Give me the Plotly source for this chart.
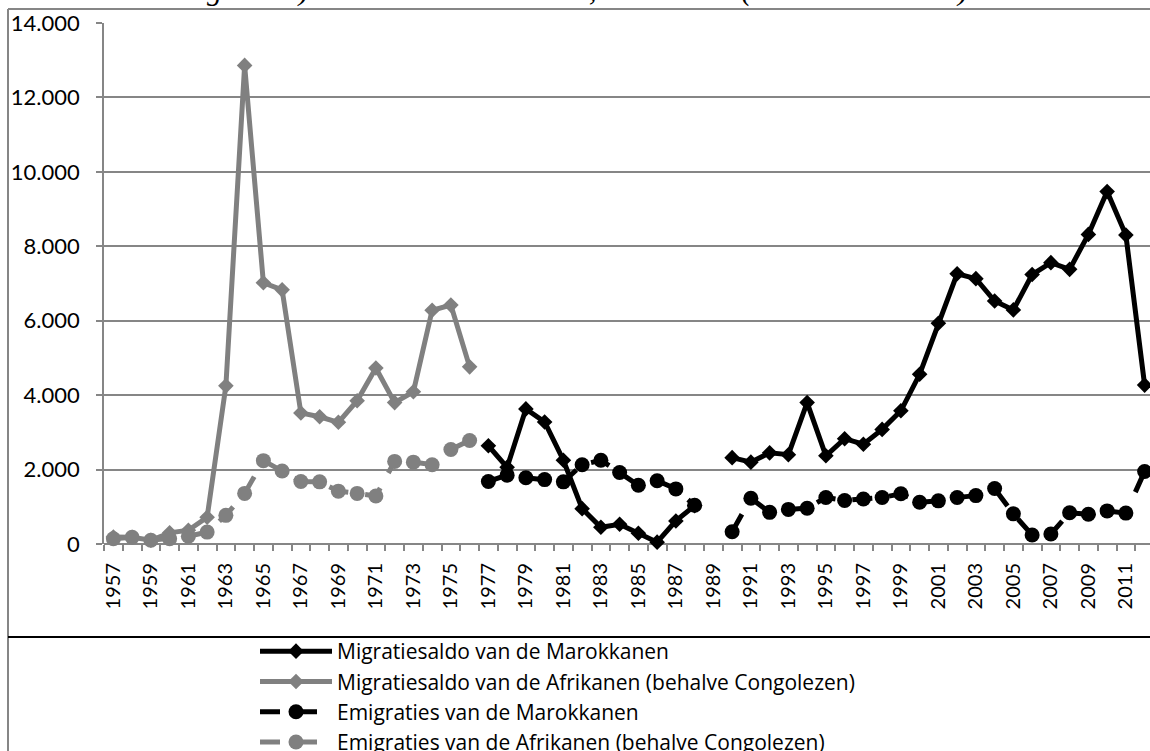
import plotly.graph_objects as go

# jaren per reeks
afr_years = [1957, 1958, 1959, 1960, 1961, 1962, 1963, 1964, 1965, 1966,
             1967, 1968, 1969, 1970, 1971, 1972, 1973, 1974, 1975, 1976]
mar_years = [1977, 1978, 1979, 1980, 1981, 1982, 1983, 1984, 1985, 1986,
             1987, 1988, 1989, 1990, 1991, 1992, 1993, 1994, 1995, 1996,
             1997, 1998, 1999, 2000, 2001, 2002, 2003, 2004, 2005, 2006,
             2007, 2008, 2009, 2010, 2011, 2012]

# migratiesaldo en emigraties
mar_saldo = [2640, 2060, 3630, 3280, 2250, 950, 450, 530, 290, 50,
             620, 1030, None, 2320, 2200, 2450, 2400, 3800, 2370, 2830,
             2680, 3080, 3580, 4560, 5930, 7260, 7130, 6530, 6290, 7240,
             7560, 7380, 8320, 9470, 8300, 4270]
afr_saldo = [190, 180, 100, 300, 370, 720, 4250, 12860, 7020, 6830,
             3520, 3420, 3270, 3850, 4730, 3800, 4090, 6280, 6420, 4760]
mar_emig = [1680, 1850, 1780, 1730, 1670, 2130, 2250, 1920, 1580, 1700,
            1480, 1040, None, 330, 1230, 850, 930, 960, 1250, 1170,
            1210, 1250, 1350, 1120, 1160, 1250, 1300, 1490, 810, 240,
            270, 840, 800, 890, 830, 1950]
afr_emig = [140, 180, 100, 140, 210, 320, 770, 1360, 2240, 1960,
            1680, 1670, 1420, 1360, 1290, 2220, 2200, 2130, 2540, 2780]

tick_years = [1957, 1959, 1961, 1963, 1965, 1967, 1969, 1971, 1973, 1975,
              1977, 1979, 1981, 1983, 1985, 1987, 1989, 1991, 1993, 1995,
              1997, 1999, 2001, 2003, 2005, 2007, 2009, 2011]
tick_labels = [str(y) for y in tick_years]

series_names = [
    'Migratiesaldo van de Marokkanen',
    'Migratiesaldo van de Afrikanen (behalve Congolezen)',
    'Emigraties van de Marokkanen',
    'Emigraties van de Afrikanen (behalve Congolezen)',
]

FONT = 'Lato'
GRID = '#868686'
GREY = '#808080'
DASH = '20px,17px'

fig = go.Figure()

fig.add_trace(go.Scatter(
    x=mar_years, y=mar_saldo, name=series_names[0], mode='lines+markers',
    line=dict(color='black', width=5),
    marker=dict(symbol='diamond', size=12, color='black'),
    cliponaxis=False))
fig.add_trace(go.Scatter(
    x=afr_years, y=afr_saldo, name=series_names[1], mode='lines+markers',
    line=dict(color=GREY, width=5),
    marker=dict(symbol='diamond', size=12, color=GREY),
    cliponaxis=False))
fig.add_trace(go.Scatter(
    x=mar_years, y=mar_emig, name=series_names[2], mode='lines+markers',
    line=dict(color='black', width=5, dash=DASH),
    marker=dict(symbol='circle', size=15, color='black'),
    cliponaxis=False))
fig.add_trace(go.Scatter(
    x=afr_years, y=afr_emig, name=series_names[3], mode='lines+markers',
    line=dict(color=GREY, width=5, dash=DASH),
    marker=dict(symbol='circle', size=15, color=GREY),
    cliponaxis=False))

# plot area in pixels: left 104, top 23, bottom 544
L, T, B, W, H = 104, 23, 207, 1150, 751
pw, ph = W - L, H - T - B


def px_x(x):
    return (x - L) / pw


def px_y(y):
    return (H - B - y) / ph


# frame and divider like the Excel chart area
fig.add_shape(type='line', xref='paper', yref='paper',
              x0=px_x(8), x1=px_x(1150), y0=px_y(9), y1=px_y(9),
              line=dict(color=GRID, width=2))
fig.add_shape(type='line', xref='paper', yref='paper',
              x0=px_x(8), x1=px_x(8), y0=px_y(9), y1=px_y(751),
              line=dict(color=GRID, width=2))
fig.add_shape(type='line', xref='paper', yref='paper',
              x0=px_x(8), x1=px_x(1150), y0=px_y(637), y1=px_y(637),
              line=dict(color='black', width=2))

# title, cut off by the top of the page
fig.add_annotation(
    text='Congolezen) en van de Marokkanen, 1957-2012 (Bron: RR-ADSEI)',
    xref='paper', yref='paper', x=px_x(155), y=px_y(9),
    xanchor='left', yanchor='bottom', showarrow=False,
    font=dict(family='Liberation Serif', size=30, color='black',
              style='italic'))

fig.update_xaxes(
    range=[1956.5, 1956.5 + pw / 18.75],
    tickmode='array', tickvals=tick_years, ticktext=tick_labels,
    tickangle=-90, ticks='', showgrid=False, zeroline=False,
    showline=False, ticklabelstandoff=14,
    tickfont=dict(family=FONT, size=20, color='black'),
    minor=dict(tickmode='linear', tick0=1956.5, dtick=1, ticks='outside',
               ticklen=6, tickwidth=1.5, tickcolor=GRID, showgrid=False))
fig.update_yaxes(
    range=[0, 14000], dtick=2000, tickformat=',d',
    showgrid=True, gridcolor=GRID, gridwidth=1.5,
    zeroline=True, zerolinecolor=GRID, zerolinewidth=1.5,
    showline=True, linecolor=GRID, linewidth=1.5,
    ticks='outside', ticklen=6, tickwidth=1.5, tickcolor=GRID,
    ticklabelstandoff=12,
    tickfont=dict(family=FONT, size=22, color='black'))

fig.update_layout(
    width=W, height=H,
    margin=dict(l=L, r=0, t=T, b=B, autoexpand=False),
    separators=',.',
    plot_bgcolor='white', paper_bgcolor='white',
    font=dict(family=FONT, color='black'),
    showlegend=True,
    legend=dict(xref='container', yref='container',
                x=255 / W, y=1 - 631 / H, xanchor='left', yanchor='top',
                font=dict(family='Open Sans', size=21), itemwidth=72,
                tracegroupgap=0, bgcolor='rgba(0,0,0,0)'),
)

# page without the default body margin, so the figure fills the window
fig.write_html('out.html', config={'displayModeBar': False},
               post_script="document.body.style.margin='0px';")
